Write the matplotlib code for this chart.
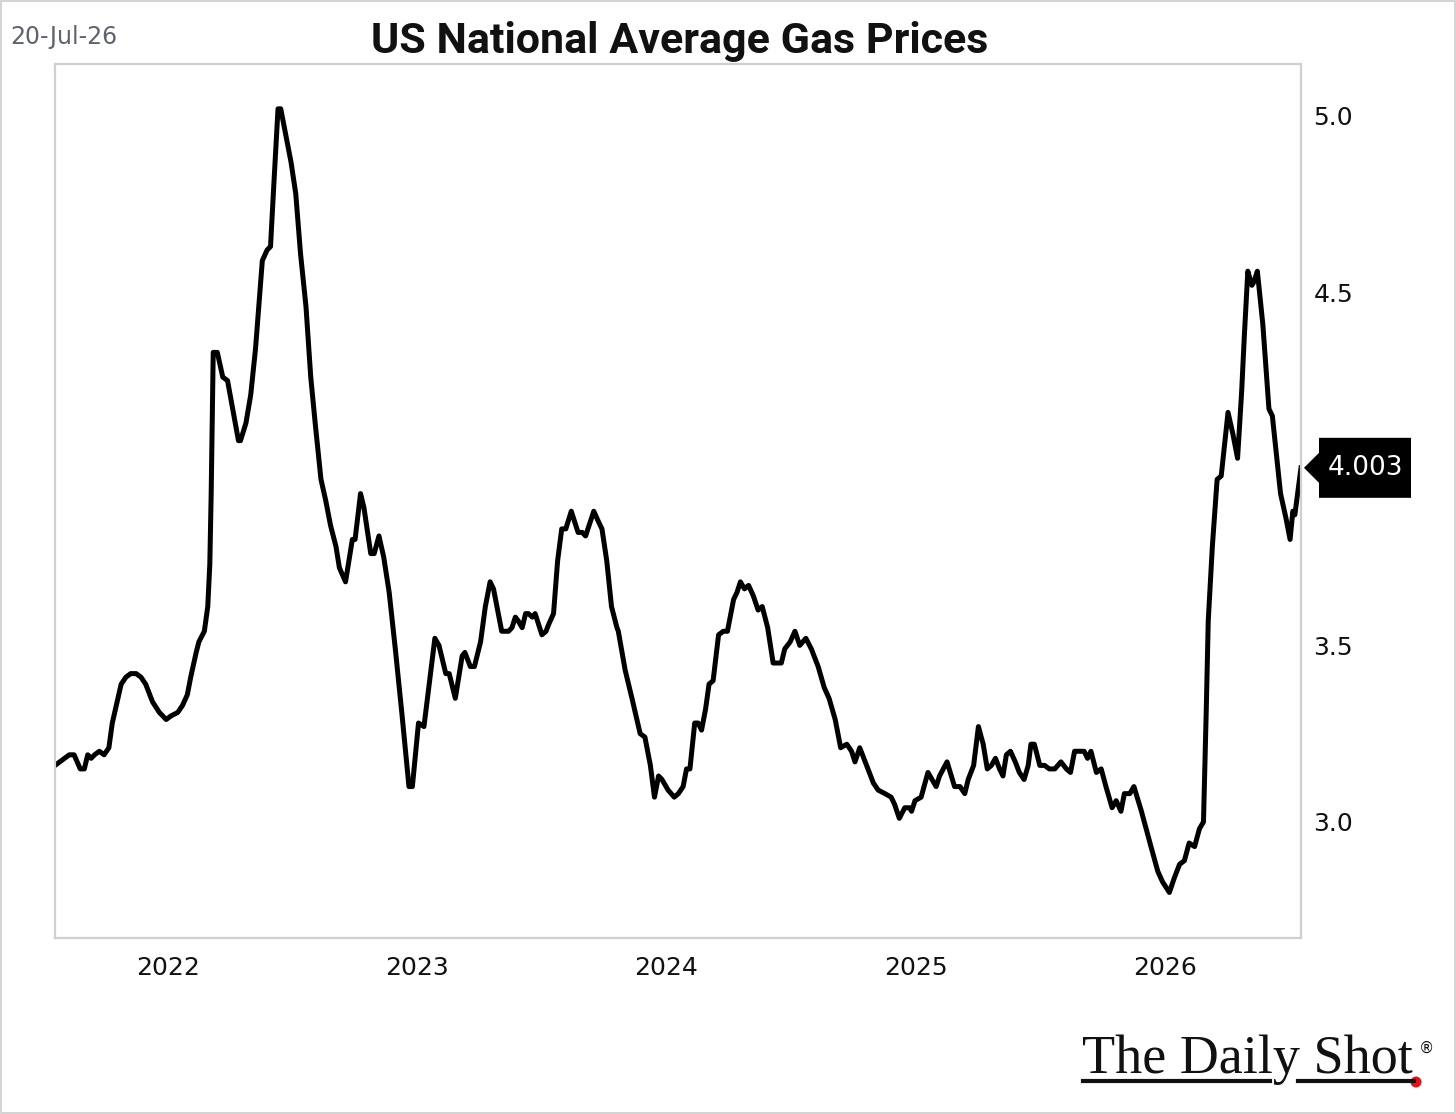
"""
US national average gas prices, weekly, Jul-2021 to Jul-2026.
"""

import pandas as pd
import matplotlib
matplotlib.use("Agg")
import matplotlib.pyplot as plt
import matplotlib.dates as mdates
import matplotlib.transforms as mtransforms
from matplotlib.patches import Polygon, Rectangle, Circle
from matplotlib.lines import Line2D


# ---- data ----
dates = [
    "2021-07-19", "2021-08-09", "2021-08-16", "2021-08-25", "2021-08-31", "2021-09-05",
    "2021-09-10", "2021-09-15", "2021-09-22", "2021-09-29", "2021-10-06", "2021-10-11",
    "2021-10-24", "2021-10-31", "2021-11-07", "2021-11-15", "2021-11-22", "2021-11-29",
    "2021-12-09", "2021-12-19", "2021-12-29",
    "2022-01-05", "2022-01-15", "2022-01-22", "2022-01-29", "2022-02-03", "2022-02-11",
    "2022-02-15", "2022-02-23", "2022-02-28", "2022-03-03", "2022-03-05", "2022-03-08",
    "2022-03-14", "2022-03-22", "2022-03-29", "2022-04-14", "2022-04-17", "2022-04-25",
    "2022-05-02", "2022-05-09", "2022-05-19", "2022-05-26", "2022-05-31", "2022-06-05",
    "2022-06-11", "2022-06-15", "2022-06-22", "2022-06-30", "2022-07-07", "2022-07-14",
    "2022-07-22", "2022-07-29", "2022-08-05", "2022-08-13", "2022-08-20", "2022-08-27",
    "2022-09-04", "2022-09-09", "2022-09-18", "2022-09-28", "2022-10-02", "2022-10-10",
    "2022-10-15", "2022-10-25", "2022-10-30", "2022-11-06", "2022-11-13", "2022-11-21",
    "2022-11-30", "2022-12-10", "2022-12-20", "2022-12-25",
    "2023-01-03", "2023-01-11", "2023-01-18", "2023-01-27", "2023-02-02", "2023-02-12",
    "2023-02-17", "2023-02-26", "2023-03-08", "2023-03-12", "2023-03-20", "2023-03-26",
    "2023-04-04", "2023-04-11", "2023-04-18", "2023-04-23", "2023-05-05", "2023-05-15",
    "2023-05-20", "2023-05-25", "2023-05-29", "2023-06-04", "2023-06-09", "2023-06-13",
    "2023-06-19", "2023-06-23", "2023-07-03", "2023-07-09", "2023-07-13", "2023-07-20",
    "2023-07-26", "2023-08-01", "2023-08-07", "2023-08-15", "2023-08-25", "2023-08-31",
    "2023-09-05", "2023-09-17", "2023-09-24", "2023-09-29", "2023-10-06", "2023-10-13",
    "2023-10-21", "2023-10-23", "2023-11-02", "2023-11-12", "2023-11-24", "2023-12-01",
    "2023-12-09", "2023-12-15", "2023-12-21", "2023-12-26",
    "2024-01-04", "2024-01-13", "2024-01-19", "2024-01-26", "2024-01-31", "2024-02-05",
    "2024-02-12", "2024-02-17", "2024-02-22", "2024-02-28", "2024-03-04", "2024-03-10",
    "2024-03-18", "2024-03-25", "2024-03-31", "2024-04-09", "2024-04-14", "2024-04-19",
    "2024-04-25", "2024-05-01", "2024-05-08", "2024-05-15", "2024-05-21", "2024-05-29",
    "2024-06-06", "2024-06-18", "2024-06-23", "2024-07-01", "2024-07-08", "2024-07-15",
    "2024-07-24", "2024-08-01", "2024-08-11", "2024-08-20", "2024-08-27", "2024-09-05",
    "2024-09-13", "2024-09-22", "2024-09-29", "2024-10-04", "2024-10-11", "2024-10-21",
    "2024-10-31", "2024-11-07", "2024-11-17", "2024-11-26", "2024-12-01", "2024-12-08",
    "2024-12-16", "2024-12-23", "2024-12-26", "2024-12-31",
    "2025-01-09", "2025-01-19", "2025-01-31", "2025-02-05", "2025-02-16", "2025-02-27",
    "2025-03-07", "2025-03-14", "2025-03-19", "2025-03-27", "2025-04-03", "2025-04-10",
    "2025-04-16", "2025-04-22", "2025-04-28", "2025-05-04", "2025-05-09", "2025-05-14",
    "2025-05-20", "2025-05-27", "2025-06-02", "2025-06-09", "2025-06-15", "2025-06-19",
    "2025-06-24", "2025-07-02", "2025-07-09", "2025-07-16", "2025-07-24", "2025-08-02",
    "2025-08-10", "2025-08-16", "2025-08-22", "2025-08-29", "2025-09-05", "2025-09-10",
    "2025-09-15", "2025-09-23", "2025-09-30", "2025-10-07", "2025-10-16", "2025-10-22",
    "2025-10-29", "2025-11-03", "2025-11-11", "2025-11-17", "2025-11-28", "2025-12-12",
    "2025-12-22", "2025-12-29",
    "2026-01-08", "2026-01-15", "2026-01-23", "2026-01-30", "2026-02-06", "2026-02-14",
    "2026-02-21", "2026-02-27", "2026-03-03", "2026-03-06", "2026-03-12", "2026-03-19",
    "2026-03-25", "2026-03-30", "2026-04-04", "2026-04-11", "2026-04-18", "2026-04-24",
    "2026-04-28", "2026-05-03", "2026-05-09", "2026-05-12", "2026-05-17", "2026-05-25",
    "2026-06-03", "2026-06-08", "2026-06-20", "2026-06-28", "2026-07-04", "2026-07-08",
    "2026-07-11", "2026-07-20",
]

prices = [
    3.16, 3.19, 3.19, 3.15, 3.15, 3.19, 3.18, 3.19, 3.20, 3.19, 3.21, 3.28,
    3.39, 3.41, 3.42, 3.42, 3.41, 3.39, 3.34, 3.31, 3.29,
    3.30, 3.31, 3.33, 3.36, 3.41, 3.48, 3.51, 3.54, 3.61, 3.73, 3.93, 4.33,
    4.33, 4.26, 4.25, 4.08, 4.08, 4.13, 4.21, 4.34, 4.59, 4.62, 4.63, 4.81,
    5.02, 5.02, 4.95, 4.87, 4.78, 4.61, 4.46, 4.26, 4.12, 3.97, 3.91, 3.84,
    3.78, 3.72, 3.68, 3.80, 3.80, 3.93, 3.89, 3.76, 3.76, 3.81, 3.75, 3.65,
    3.49, 3.30, 3.10, 3.10,
    3.28, 3.27, 3.38, 3.52, 3.50, 3.42, 3.42, 3.35, 3.47, 3.48, 3.44, 3.44,
    3.51, 3.61, 3.68, 3.66, 3.54, 3.54, 3.55, 3.58, 3.57, 3.55, 3.59, 3.59,
    3.58, 3.59, 3.53, 3.54, 3.56, 3.59, 3.74, 3.83, 3.83, 3.88, 3.82, 3.82,
    3.81, 3.88, 3.85, 3.83, 3.74, 3.61, 3.55, 3.54, 3.43, 3.35, 3.25, 3.24,
    3.16, 3.07, 3.13, 3.12,
    3.09, 3.07, 3.08, 3.10, 3.15, 3.15, 3.28, 3.28, 3.26, 3.32, 3.39, 3.40,
    3.53, 3.54, 3.54, 3.63, 3.65, 3.68, 3.66, 3.67, 3.64, 3.60, 3.61, 3.55,
    3.45, 3.45, 3.49, 3.51, 3.54, 3.50, 3.52, 3.49, 3.44, 3.38, 3.35, 3.29,
    3.21, 3.22, 3.20, 3.17, 3.21, 3.16, 3.11, 3.09, 3.08, 3.07, 3.05, 3.01,
    3.04, 3.04, 3.03, 3.06,
    3.07, 3.14, 3.10, 3.13, 3.17, 3.10, 3.10, 3.08, 3.12, 3.16, 3.27, 3.22,
    3.15, 3.16, 3.18, 3.15, 3.13, 3.19, 3.20, 3.17, 3.14, 3.12, 3.16, 3.22,
    3.22, 3.16, 3.16, 3.15, 3.15, 3.17, 3.15, 3.14, 3.20, 3.20, 3.20, 3.18,
    3.20, 3.14, 3.15, 3.10, 3.04, 3.06, 3.03, 3.08, 3.08, 3.10, 3.03, 2.93,
    2.86, 2.83,
    2.80, 2.84, 2.88, 2.89, 2.94, 2.93, 2.98, 3.00, 3.31, 3.57, 3.78, 3.97,
    3.98, 4.07, 4.16, 4.10, 4.03, 4.22, 4.38, 4.56, 4.52, 4.53, 4.56, 4.41,
    4.17, 4.15, 3.93, 3.86, 3.80, 3.88, 3.87, 4.003,
]

year_ticks = ["2022", "2023", "2024", "2025", "2026"]
price_ticks = [3.0, 3.5, 4.5, 5.0]
chart_title = "US National Average Gas Prices"
chart_date = "20-Jul-26"

# ---- figure ----
x = pd.to_datetime(dates)

fig = plt.figure(figsize=(14.56, 11.14), dpi=100)
fig.patch.set_facecolor("white")
ax = fig.add_axes([55 / 1456, 1 - 938 / 1114, (1301 - 55) / 1456, (938 - 64) / 1114])

ax.plot(x, prices, color="black", lw=3.6, solid_joinstyle="round")

ax.set_xlim(x[0], x[-1])
ax.set_ylim(2.671, 5.147)

ax.set_xticks(pd.to_datetime([y + "-01-01" for y in year_ticks]))
ax.xaxis.set_major_formatter(mdates.DateFormatter("%Y"))
ax.set_yticks(price_ticks)
ax.set_yticklabels(["%.1f" % p for p in price_ticks])
ax.yaxis.tick_right()
ax.tick_params(axis="both", length=0, labelsize=18, colors="#111111")
ax.tick_params(axis="x", pad=13)
ax.tick_params(axis="y", pad=9)

for s in ax.spines.values():
    s.set_color("#cfcfcf")
    s.set_linewidth(1.6)

# last value tag
trans = fig.dpi_scale_trans + mtransforms.ScaledTranslation(
    mdates.date2num(x[-1]), prices[-1], ax.transData)
tag = Polygon([(0.03, 0.0), (0.18, 0.15), (0.18, 0.30), (1.10, 0.30),
               (1.10, -0.30), (0.18, -0.30), (0.18, -0.15)],
              closed=True, facecolor="black", edgecolor="none",
              transform=trans, clip_on=False)
ax.add_patch(tag)
ax.text(0.645, 0.0, "%.3f" % prices[-1], transform=trans, color="white",
        fontsize=19, ha="center", va="center", clip_on=False)

# title and date
fig.text(0.4667, 0.963, chart_title, ha="center", va="center",
         fontsize=31, fontweight="bold", family="Roboto", color="#111111")
fig.text(10 / 1456, 1 - 37 / 1114, chart_date, ha="left", va="center",
         fontsize=17, color="#5f6370")

# logo
fig.text(1082 / 1456, 1 - 1073 / 1114, "The Daily Shot", ha="left",
         va="baseline", fontsize=39, family="Liberation Serif", color="#111111")
fig.text(1419 / 1456, 1 - 1048 / 1114, "\u00ae", ha="left", va="center",
         fontsize=11, family="DejaVu Sans", color="#111111")
fig.add_artist(Line2D([1083 / 1456, 1270 / 1456], [1 - 1081 / 1114] * 2,
                      color="#111111", lw=3))
fig.add_artist(Line2D([1298 / 1456, 1414 / 1456], [1 - 1081 / 1114] * 2,
                      color="#111111", lw=3))
fig.add_artist(Circle((1416, 1114 - 1082), 5.5, transform=None,
                      facecolor="#e3101a", edgecolor="none"))

# outer frame
fig.add_artist(Rectangle((0.0005, 0.0007), 0.999, 0.9986, transform=fig.transFigure,
                         fill=False, edgecolor="#cccccc", lw=1.2))

fig.savefig("out.png", dpi=100)
